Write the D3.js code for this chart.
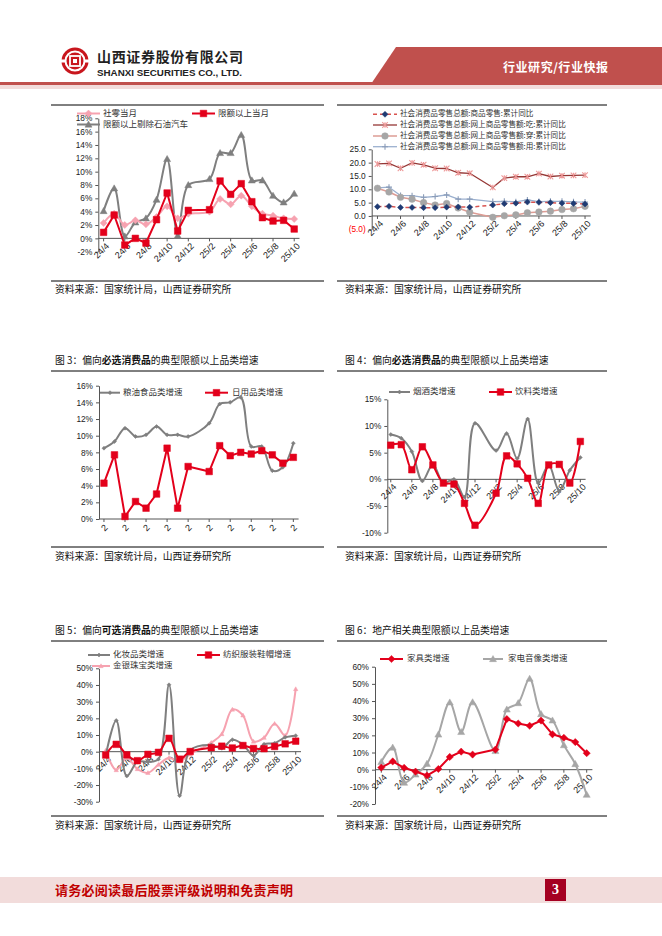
<!DOCTYPE html>
<html><head><meta charset="utf-8">
<script src="https://cdn.jsdelivr.net/npm/d3@7"></script>
<style>body{margin:0;background:#fff}svg{display:block}</style>
</head><body>
<svg id="page" width="662" height="936"></svg>
<script>
// ---------- DATA ----------
const months = ["24/4","24/5","24/6","24/7","24/8","24/9","24/10","24/11","24/12","25/1","25/2","25/3","25/4","25/5","25/6","25/7","25/8","25/9","25/10"];
const tickMonths = ["24/4","24/6","24/8","24/10","24/12","25/2","25/4","25/6","25/8","25/10"];
const c3TickLabel = "2";

// Chart 1
const c1Names = ["社零当月","限额以上当月","限额以上剔除石油汽车"];
const c1Retail    = [2.3,3.7,2.0,2.7,2.1,3.2,4.8,3.0,3.7,null,4.0,5.9,5.1,6.4,4.8,3.7,3.4,3.0,2.9];
const c1Above     = [0.9,3.5,-1.0,0.0,-0.7,2.8,6.8,1.1,4.2,null,4.3,8.6,6.6,8.2,5.5,3.1,2.6,2.7,1.4];
const c1ExOilAuto = [4.1,7.5,0.3,2.4,3.0,5.8,11.9,0.4,8.0,null,8.9,12.8,12.8,15.5,8.7,8.7,6.4,5.4,6.7];
const c1YTicks = [-2,0,2,4,6,8,10,12,14,16,18];

// Chart 2
const c2Names = ["社会消费品零售总额:商品零售:累计同比","社会消费品零售总额:网上商品零售额:吃:累计同比","社会消费品零售总额:网上商品零售额:穿:累计同比","社会消费品零售总额:网上商品零售额:用:累计同比"];
const c2Goods = [3.5,3.6,3.2,3.2,3.1,3.1,3.3,3.4,3.3,null,4.1,4.6,4.8,5.2,5.1,5.0,4.8,4.7,4.5];
const c2Food  = [19.5,19.7,17.9,19.9,19.2,17.9,17.8,16.2,16.0,null,10.7,14.2,14.7,14.7,15.9,14.8,15.1,15.2,15.3];
const c2Wear  = [10.4,9.0,7.0,6.3,5.0,4.1,4.7,3.0,1.4,null,-0.5,0.1,0.4,1.2,1.5,1.8,2.4,2.7,3.6];
const c2Use   = [10.5,10.8,7.7,7.6,7.0,7.3,7.9,6.3,6.3,null,5.4,5.5,5.3,6.0,5.4,5.5,5.5,5.3,5.2];
const c2YTicks = [-5,0,5,10,15,20,25];

// Chart 3
const c3Names = ["粮油食品类增速","日用品类增速"];
const c3Grain = [8.5,9.3,10.9,9.9,10.1,11.1,10.1,10.1,9.9,null,11.5,13.8,14.0,14.6,8.7,8.7,5.8,6.2,9.1];
const c3Daily = [4.3,7.7,0.3,2.1,1.3,3.0,8.5,1.3,6.3,null,5.7,8.8,7.6,8.0,7.8,8.2,7.7,6.7,7.4];
const c3YTicks = [0,2,4,6,8,10,12,14,16];

// Chart 4
const c4Names = ["烟酒类增速","饮料类增速"];
const c4Tobacco  = [8.4,7.7,5.2,-0.3,2.8,-0.7,0.0,-3.3,10.5,null,5.4,8.6,3.9,11.3,-0.7,2.7,-2.2,1.7,4.1];
const c4Beverage = [6.4,6.5,1.8,6.1,2.7,-0.7,-0.9,-4.5,-8.6,null,-2.6,4.4,2.9,0.2,-4.5,2.7,2.8,-0.7,7.1];
const c4YTicks = [-10,-5,0,5,10,15];

// Chart 5
const c5Names = ["化妆品类增速","纺织服装鞋帽增速","金银珠宝类增速"];
const c5Cosmetics = [-2.4,18.7,-14.6,-6.1,-6.1,-4.5,40.1,-26.4,0.8,null,4.0,2.0,7.2,4.4,-2.3,4.5,5.1,8.6,9.6];
const c5Apparel   = [-2.0,4.4,-1.9,-5.4,-1.6,-0.4,8.0,-4.5,0.1,null,2.4,3.3,2.2,3.7,1.9,1.8,3.1,4.7,6.3];
const c5Jewelry   = [0.7,-11.0,-3.7,-10.4,-12.7,-7.8,-3.6,-5.8,-1.5,null,5.4,10.6,25.3,21.8,6.1,8.4,16.8,9.7,37.6];
const c5YTicks = [-30,-20,-10,0,10,20,30,40,50];

// Chart 6
const c6Names = ["家具类增速","家电音像类增速"];
const c6Furniture  = [1.2,4.8,1.1,-1.1,-3.4,0.4,7.4,10.5,8.8,null,11.7,29.5,26.9,25.6,28.6,20.6,18.6,16.1,9.6];
const c6Appliances = [4.5,12.9,-7.6,-2.8,3.4,20.5,39.2,22.0,39.3,null,10.9,35.1,38.8,53.0,32.4,28.7,14.3,3.3,-14.6];
const c6YTicks = [-20,-10,0,10,20,30,40,50,60];

// Texts
const headerCn = "山西证券股份有限公司";
const headerEn = "SHANXI SECURITIES CO., LTD.";
const headerRight = "行业研究/行业快报";
const sourceText = "资料来源：国家统计局，山西证券研究所";
const footerText = "请务必阅读最后股票评级说明和免责声明";
const pageNo = "3";

// ---------- DRAW ----------
const FONT_CN = "'Noto Sans CJK SC', 'Noto Sans', sans-serif";
const FONT_NUM = "'Liberation Sans', Arial, sans-serif";
const svg = d3.select("#page");

// Header
svg.append("polygon").attr("points","396,47 662,47 662,84 371,84").attr("fill","#c0504d");
svg.append("rect").attr("x",0).attr("y",82).attr("width",662).attr("height",3).attr("fill","#c0504d");
svg.append("rect").attr("x",0).attr("y",85).attr("width",662).attr("height",4).attr("fill","#f2dcdb");
svg.append("text").attr("x",503).attr("y",72).attr("fill","#fff").attr("font-family",FONT_CN)
  .attr("font-weight","700").attr("font-size",12).attr("textLength",105).text(headerRight);
// logo
const logo = svg.append("g").attr("transform","translate(75,61)");
logo.append("circle").attr("r",13.5).attr("fill","#c8161d");
logo.append("circle").attr("r",9.5).attr("fill","none").attr("stroke","#fff").attr("stroke-width",2);
logo.append("rect").attr("x",-5).attr("y",-5).attr("width",10).attr("height",10).attr("fill","#c8161d").attr("stroke","#fff").attr("stroke-width",1.8);
logo.append("rect").attr("x",-2).attr("y",-2).attr("width",4).attr("height",4).attr("fill","#fff");
logo.append("rect").attr("x",-15).attr("y",-1.5).attr("width",6).attr("height",3).attr("fill","#fff");
logo.append("rect").attr("x",9).attr("y",-1.5).attr("width",6).attr("height",3).attr("fill","#fff");
svg.append("text").attr("x",97).attr("y",62).attr("font-family",FONT_CN).attr("font-weight","700")
  .attr("font-size",14).attr("fill","#222").attr("textLength",146).text(headerCn);
svg.append("text").attr("x",97).attr("y",76).attr("font-family",FONT_NUM).attr("font-weight","700")
  .attr("font-size",9.5).attr("fill","#222").attr("textLength",145).attr("lengthAdjust","spacingAndGlyphs").text(headerEn);

// Separators & captions
function hline(x1,x2,y){svg.append("line").attr("x1",x1).attr("x2",x2).attr("y1",y).attr("y2",y).attr("stroke","#000").attr("stroke-width",1);}
[[105],[281],[371],[547],[641],[816]].forEach(([y])=>{hline(51,324,y);hline(337,607,y);});
function srcText(x,y){svg.append("text").attr("x",x).attr("y",y).attr("font-family",FONT_CN).attr("font-size",9.8).attr("fill","#111").attr("dominant-baseline","middle").text(sourceText);}
[290,557,826].forEach(y=>{srcText(55,y);srcText(345,y);});
function caption(x,y,parts){
  const t=svg.append("text").attr("x",x).attr("y",y).attr("font-family",FONT_CN).attr("font-size",9.8).attr("fill","#111").attr("dominant-baseline","middle");
  parts.forEach(p=>t.append("tspan").attr("font-weight",p[1]?"700":"400").text(p[0]));
}
caption(55,361,[["图\u00a03：偏向",0],["必选消费品",1],["的典型限额以上品类增速",0]]);
caption(345,361,[["图\u00a04：偏向",0],["必选消费品",1],["的典型限额以上品类增速",0]]);
caption(55,631,[["图\u00a05：偏向",0],["可选消费品",1],["的典型限额以上品类增速",0]]);
caption(345,631,[["图\u00a06：地产相关典型限额以上品类增速",0]]);

// Footer
svg.append("rect").attr("x",0).attr("y",877).attr("width",662).attr("height",26).attr("fill","#f2dcdb");
svg.append("text").attr("x",55).attr("y",891).attr("font-family",FONT_CN).attr("font-weight","700")
  .attr("font-size",13).attr("fill","#c00000").attr("dominant-baseline","middle").attr("textLength",238).text(footerText);
svg.append("rect").attr("x",545).attr("y",879).attr("width",21).attr("height",22).attr("fill","#a50021");
svg.append("text").attr("x",555.5).attr("y",891).attr("text-anchor","middle").attr("dominant-baseline","middle")
  .attr("font-family","'Liberation Serif', serif").attr("font-weight","700").attr("font-size",14).attr("fill","#fff").text(pageNo);

// Marker path
function markerPath(type,r){
  switch(type){
    case "square": return `M${-r},${-r}H${r}V${r}H${-r}Z`;
    case "diamond": return `M0,${-r}L${r},0L0,${r}L${-r},0Z`;
    case "triangle": return `M0,${-r}L${r},${r*0.75}L${-r},${r*0.75}Z`;
    case "circle": return `M${-r},0A${r},${r} 0 1,0 ${r},0A${r},${r} 0 1,0 ${-r},0Z`;
    case "star": return `M${-r},${-r}L${r},${r}M${-r},${r}L${r},${-r}M0,${-r}V${r}`;
    case "plus": return `M${-r},0H${r}M0,${-r}V${r}`;
  }
}
function drawMarker(g,x,y,m){
  const stroked = m.type==="star"||m.type==="plus";
  g.append("path").attr("transform",`translate(${x},${y})`).attr("d",markerPath(m.type,m.r))
    .attr("fill",stroked?"none":m.color).attr("stroke",m.color).attr("stroke-width",stroked?1.1:0.5);
}

function drawChart(cfg){
  const g = svg.append("g");
  const x = d3.scaleBand().domain(months).range(cfg.xRange);
  const y = d3.scaleLinear().domain(cfg.yDomain).range(cfg.yRange);
  const cx = m => x(m)+x.bandwidth()/2;
  const axX = cfg.yAxisX!=null?cfg.yAxisX:cfg.xRange[0];
  const ya = d3.axisLeft(y).tickValues(cfg.yTicks).tickFormat(cfg.yFormat).tickSizeInner(3).tickSizeOuter(0).tickPadding(3);
  const yg = g.append("g").attr("transform",`translate(${axX},0)`).call(ya);
  yg.selectAll("text").attr("font-family",FONT_NUM).attr("font-size",8.3).attr("fill",d=>d<0&&cfg.negRed?"#ff0000":"#222");
  yg.selectAll("line,path").attr("stroke","#555");
  const xa = d3.axisBottom(x).tickValues(tickMonths).tickFormat(cfg.xFormat||(d=>d)).tickSizeInner(3).tickSizeOuter(0);
  const xg = g.append("g").attr("transform",`translate(0,${y(0)})`).call(xa);
  xg.select(".domain").attr("d",`M${axX},0H${cfg.xRange[1]}`);
  xg.selectAll("line,path").attr("stroke","#555");
  xg.selectAll("text").attr("x",0).attr("y",0).attr("dy","0.35em").attr("text-anchor","end")
    .attr("transform",`translate(${cfg.lblDx||4},${cfg.lblDy||6}) rotate(-45)`)
    .attr("font-family",FONT_NUM).attr("font-size",cfg.xFont||9).attr("fill","#222");
  cfg.series.forEach(s=>{
    const data = months.map((m,i)=>({m,v:s.values[i]})).filter(d=>d.v!=null);
    const line = d3.line().x(d=>cx(d.m)).y(d=>y(d.v)).curve(s.smooth?d3.curveCatmullRom.alpha(0.5):d3.curveLinear);
    g.append("path").datum(data).attr("d",line).attr("fill","none").attr("stroke",s.color)
      .attr("stroke-width",s.width||2).attr("stroke-dasharray",s.dash||null).attr("stroke-linejoin","round");
    if(s.marker) data.forEach(d=>drawMarker(g,cx(d.m),y(d.v),s.marker));
  });
  cfg.legend.forEach(l=>{
    const s = cfg.series[l.s];
    g.append("line").attr("x1",l.x1).attr("x2",l.x2).attr("y1",l.y).attr("y2",l.y).attr("stroke",s.color)
      .attr("stroke-width",s.width||2).attr("stroke-dasharray",s.dash||null);
    if(s.marker) drawMarker(g,(l.x1+l.x2)/2,l.y,s.marker);
    g.append("text").attr("x",l.tx).attr("y",l.y).attr("dominant-baseline","middle").attr("font-family",FONT_CN)
      .attr("font-size",cfg.legendFont||8.5).attr("fill","#333").text(s.name);
  });
}

const RED="#e3001b", GREY="#7f7f7f", PINK="#f6a2b0";
const pct = d=>d+"%";

drawChart({xRange:[98.3,299.5],yDomain:[-2,18],yRange:[251.7,118.3],yTicks:c1YTicks,yFormat:pct,
  series:[
    {name:c1Names[2],values:c1ExOilAuto,color:GREY,smooth:true,marker:{type:"triangle",r:3.5,color:GREY}},
    {name:c1Names[0],values:c1Retail,color:PINK,smooth:true,marker:{type:"diamond",r:3.5,color:PINK}},
    {name:c1Names[1],values:c1Above,color:RED,marker:{type:"square",r:3.3,color:RED}}
  ],
  legend:[{s:1,x1:77,x2:100,y:113.5,tx:103},{s:2,x1:192,x2:215,y:113.5,tx:218},{s:0,x1:77,x2:100,y:124.5,tx:103}]});

drawChart({xRange:[371.7,590.8],yDomain:[-5,25],yRange:[229.3,149.3],yTicks:c2YTicks,negRed:true,
  yFormat:d=>d<0?`(${(-d).toFixed(1)})`:d.toFixed(1),legendFont:7.6,
  series:[
    {name:c2Names[1],values:c2Food,color:"#953735",width:1.3,marker:{type:"star",r:2.8,color:"#ee9a9a"}},
    {name:c2Names[3],values:c2Use,color:"#9bb0cf",width:1.3,marker:{type:"plus",r:3,color:"#8a9cb8"}},
    {name:c2Names[2],values:c2Wear,color:"#dd9c94",width:1.5,marker:{type:"circle",r:3.3,color:"#a6a6a6"}},
    {name:c2Names[0],values:c2Goods,color:"#d9534f",width:1.5,dash:"4,3",marker:{type:"diamond",r:3,color:"#1f3b73"}}
  ],
  legend:[{s:3,x1:373,x2:397,y:114.3,tx:400},{s:0,x1:373,x2:397,y:125,tx:400},{s:2,x1:373,x2:397,y:136,tx:400},{s:1,x1:373,x2:397,y:146.7,tx:400}]});

drawChart({xRange:[98.7,298.6],yAxisX:99,yDomain:[0,16],yRange:[519,385.7],yTicks:c3YTicks,yFormat:pct,
  xFormat:()=>c3TickLabel,lblDx:2,lblDy:7,
  series:[
    {name:c3Names[0],values:c3Grain,color:GREY,smooth:true,marker:{type:"diamond",r:2,color:GREY}},
    {name:c3Names[1],values:c3Daily,color:RED,marker:{type:"square",r:3.3,color:RED}}
  ],
  legend:[{s:0,x1:100,x2:120,y:392.7,tx:123},{s:1,x1:205,x2:228,y:392.7,tx:232}]});

drawChart({xRange:[385.5,585.6],yAxisX:387.3,yDomain:[-10,15],yRange:[532.7,399.3],yTicks:c4YTicks,yFormat:pct,
  series:[
    {name:c4Names[0],values:c4Tobacco,color:GREY,smooth:true,marker:{type:"diamond",r:2,color:GREY}},
    {name:c4Names[1],values:c4Beverage,color:RED,smooth:true,marker:{type:"square",r:3.3,color:RED}}
  ],
  legend:[{s:0,x1:389,x2:410,y:392,tx:413},{s:1,x1:489,x2:512,y:392,tx:515}]});

drawChart({xRange:[100.4,301],yAxisX:99,yDomain:[-30,50],yRange:[801.7,668.3],yTicks:c5YTicks,yFormat:pct,
  series:[
    {name:c5Names[2],values:c5Jewelry,color:PINK,smooth:true,marker:{type:"triangle",r:2.2,color:PINK}},
    {name:c5Names[0],values:c5Cosmetics,color:GREY,smooth:true,marker:{type:"diamond",r:2,color:GREY}},
    {name:c5Names[1],values:c5Apparel,color:RED,smooth:true,marker:{type:"square",r:3.3,color:RED}}
  ],
  legend:[{s:1,x1:88,x2:110,y:655,tx:113},{s:2,x1:197,x2:220,y:655,tx:223},{s:0,x1:92,x2:110,y:666,tx:113}]});

drawChart({xRange:[375.6,592.4],yAxisX:375,yDomain:[-20,60],yRange:[804,666.7],yTicks:c6YTicks,yFormat:pct,
  series:[
    {name:c6Names[1],values:c6Appliances,color:"#a6a6a6",smooth:true,marker:{type:"triangle",r:3.5,color:"#a6a6a6"}},
    {name:c6Names[0],values:c6Furniture,color:RED,marker:{type:"diamond",r:3.6,color:RED}}
  ],
  legend:[{s:1,x1:380,x2:403,y:659,tx:407},{s:0,x1:483,x2:503,y:659,tx:508}]});
</script>
</body></html>
